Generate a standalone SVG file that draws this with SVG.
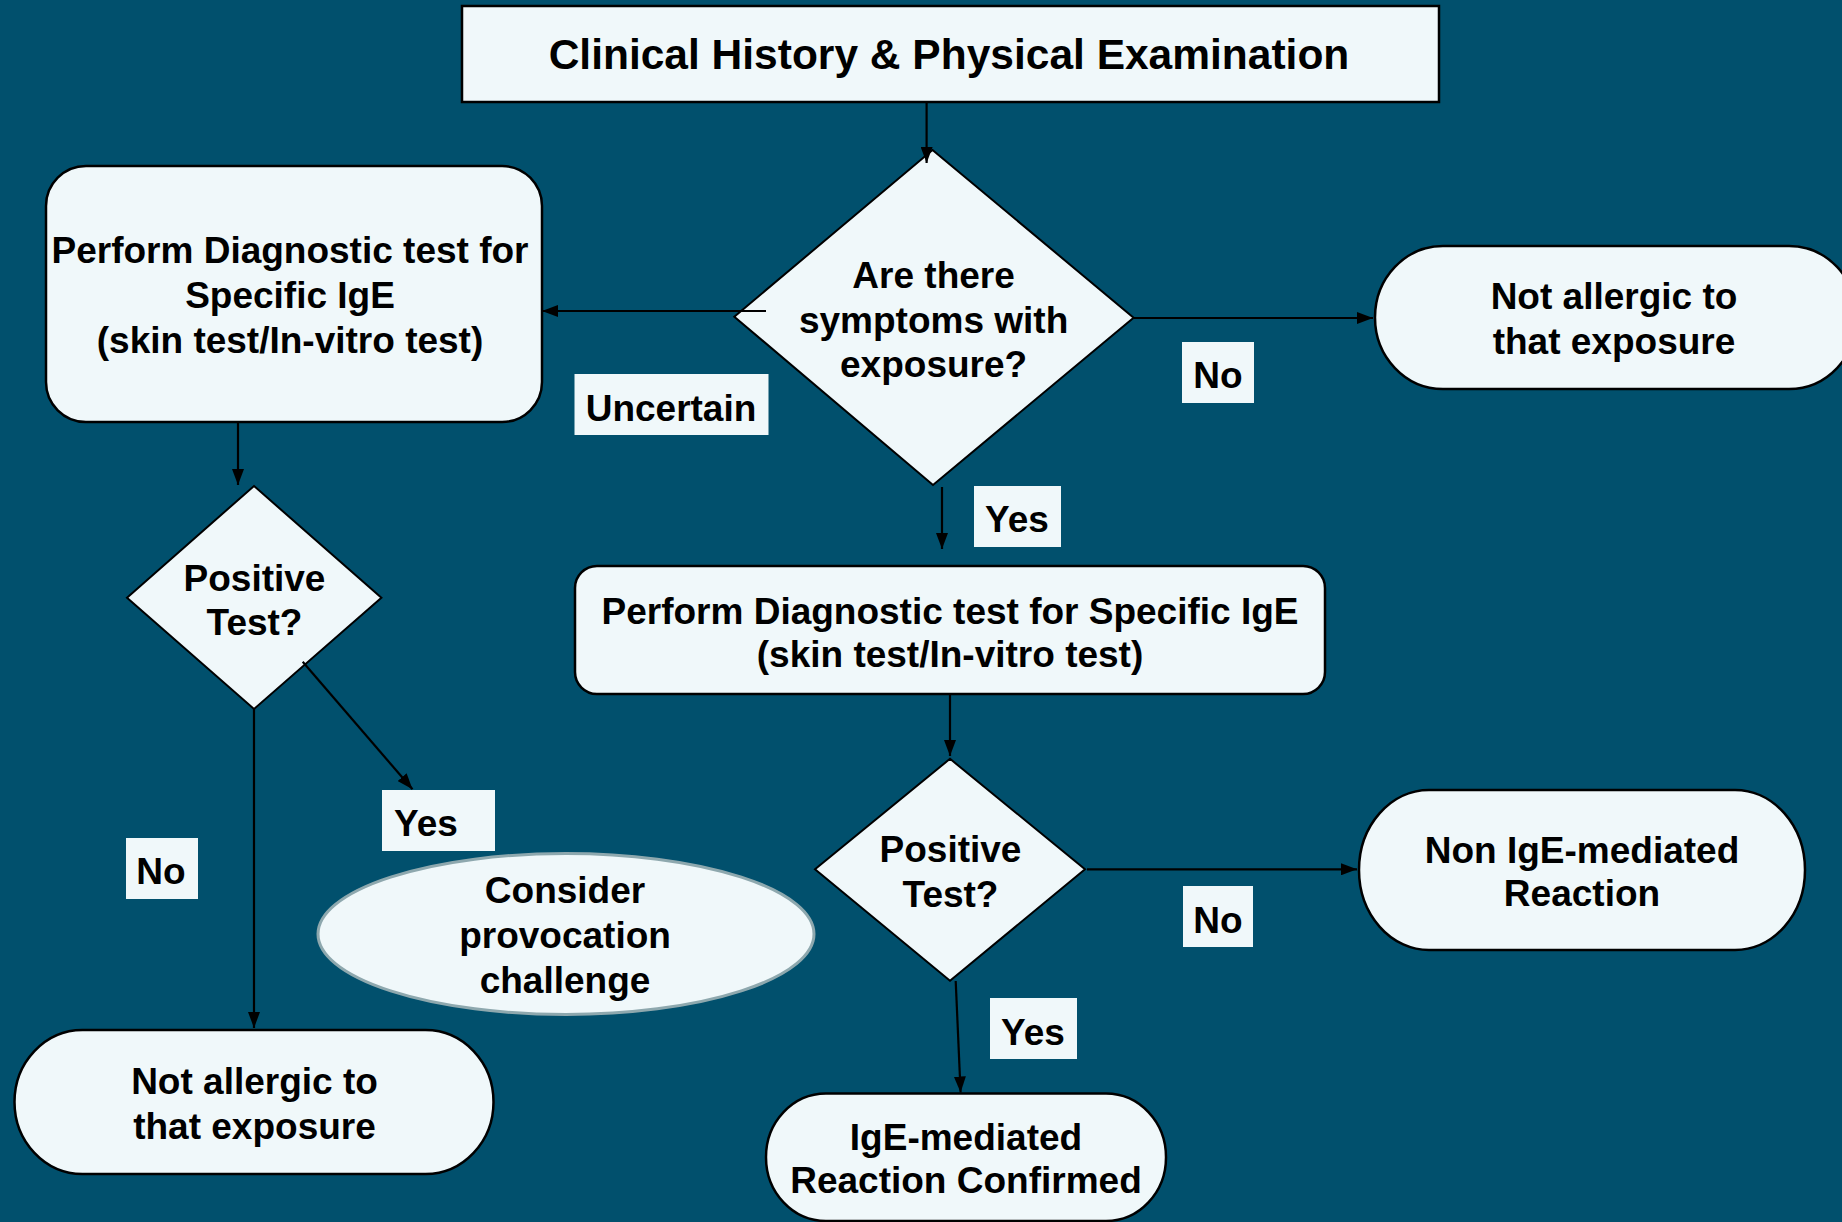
<svg xmlns="http://www.w3.org/2000/svg" width="1842" height="1222" viewBox="0 0 1842 1222">
<defs>
<marker id="arr" viewBox="0 0 16 12" refX="16" refY="6" markerWidth="16" markerHeight="12" markerUnits="userSpaceOnUse" orient="auto">
<path d="M0,0 L16,6 L0,12 z" fill="#000"/>
</marker>
<style>
.shape{fill:#f0f8fa;stroke:#000;stroke-width:2.5}
.dia{fill:#f0f8fa;stroke:#000;stroke-width:2}
.lbl{fill:#f0f8fa;stroke:none}
.t{font-family:"Liberation Sans",Arial,sans-serif;font-weight:bold;font-size:37px;fill:#000;text-anchor:middle}
.ts{font-family:"Liberation Sans",Arial,sans-serif;font-weight:bold;font-size:37px;fill:#000}
.c{fill:none;stroke:#000;stroke-width:2.2;marker-end:url(#arr)}
</style>
</defs>
<rect width="1842" height="1222" fill="#01506d"/>

<g id="history">
<rect class="shape" x="462" y="6" width="977" height="96" stroke-width="3"/>
<text class="t" x="949" y="69" style="font-size:42.5px">Clinical History &amp; Physical Examination</text>
</g>

<g id="symptoms">
<polygon class="dia" points="932.5,150 1133.6,317.7 933,485 734.3,316.7"/>
<text class="t" x="933.6" y="288">Are there</text>
<text class="t" x="933.6" y="332.5">symptoms with</text>
<text class="t" x="933.6" y="377">exposure?</text>
</g>

<g id="left-test">
<rect class="shape" x="46" y="166" width="496" height="256" rx="40" ry="40"/>
<text class="t" x="290" y="263">Perform Diagnostic test for</text>
<text class="t" x="290" y="308">Specific IgE</text>
<text class="t" x="290" y="353">(skin test/In-vitro test)</text>
</g>

<g id="not-allergic-top">
<rect class="shape" x="1375" y="246" width="482" height="143" rx="68" ry="71.5"/>
<text class="t" x="1614" y="308.5">Not allergic to</text>
<text class="t" x="1614" y="353.5">that exposure</text>
</g>

<g id="label-uncertain">
<rect class="lbl" x="574.5" y="374" width="194" height="61"/>
<text class="t" x="671" y="420.5">Uncertain</text>
</g>
<g id="label-no-top">
<rect class="lbl" x="1182" y="342" width="72" height="61"/>
<text class="t" x="1218" y="388">No</text>
</g>
<g id="label-yes-top">
<rect class="lbl" x="974" y="486" width="87" height="61"/>
<text class="t" x="1017" y="531.5">Yes</text>
</g>

<g id="left-positive">
<polygon class="dia" points="254,486 381.4,597.7 254,709 127,597.7"/>
<text class="t" x="254.5" y="590.5">Positive</text>
<text class="t" x="254.5" y="634.5">Test?</text>
</g>

<g id="middle-test">
<rect class="shape" x="575" y="566" width="750" height="128" rx="22" ry="22"/>
<text class="t" x="950" y="623.5">Perform Diagnostic test for Specific IgE</text>
<text class="t" x="950" y="667">(skin test/In-vitro test)</text>
</g>

<g id="label-yes-left">
<rect class="lbl" x="382" y="790" width="113" height="61"/>
<text class="ts" x="394" y="836">Yes</text>
</g>
<g id="label-no-left">
<rect class="lbl" x="126" y="838" width="72" height="61"/>
<text class="t" x="161" y="884">No</text>
</g>

<g id="provocation">
<ellipse cx="566" cy="934" rx="248" ry="80.5" fill="#f0f8fa" stroke="#8ea8ae" stroke-width="3"/>
<text class="t" x="565" y="903">Consider</text>
<text class="t" x="565" y="948">provocation</text>
<text class="t" x="565" y="993">challenge</text>
</g>

<g id="middle-positive">
<polygon class="dia" points="950,758.8 1085,869.3 950,980.7 815,869.3"/>
<text class="t" x="950.5" y="862">Positive</text>
<text class="t" x="950.5" y="906.5">Test?</text>
</g>

<g id="non-ige">
<rect class="shape" x="1359" y="790" width="446" height="160" rx="70" ry="80"/>
<text class="t" x="1582" y="863">Non IgE-mediated</text>
<text class="t" x="1582" y="905.5">Reaction</text>
</g>

<g id="label-no-mid">
<rect class="lbl" x="1183" y="886" width="70" height="61"/>
<text class="t" x="1218" y="932.5">No</text>
</g>
<g id="label-yes-mid">
<rect class="lbl" x="990" y="998" width="87" height="61"/>
<text class="t" x="1033" y="1044.7">Yes</text>
</g>

<g id="not-allergic-bottom">
<rect class="shape" x="14.5" y="1030" width="479" height="144" rx="68" ry="72"/>
<text class="t" x="254.5" y="1093.5">Not allergic to</text>
<text class="t" x="254.5" y="1138.5">that exposure</text>
</g>

<g id="ige-confirmed">
<rect class="shape" x="766" y="1093.5" width="400" height="127.5" rx="60" ry="63.5"/>
<text class="t" x="966" y="1149.5">IgE-mediated</text>
<text class="t" x="966" y="1193">Reaction Confirmed</text>
</g>

<g id="connectors">
<line class="c" x1="926.6" y1="102" x2="926.6" y2="163"/>
<line class="c" x1="766" y1="311" x2="542" y2="311"/>
<line class="c" x1="1134" y1="318" x2="1373" y2="318"/>
<line class="c" x1="942" y1="487" x2="942" y2="549"/>
<line class="c" x1="238" y1="422" x2="238" y2="485"/>
<line class="c" x1="302.7" y1="661.7" x2="412.5" y2="789.3"/>
<line class="c" x1="254" y1="709" x2="254" y2="1028"/>
<line class="c" x1="950" y1="694" x2="950" y2="756"/>
<line class="c" x1="1087" y1="869.3" x2="1357" y2="869.3"/>
<line class="c" x1="955.7" y1="981" x2="960.6" y2="1092.5"/>
</g>
</svg>
